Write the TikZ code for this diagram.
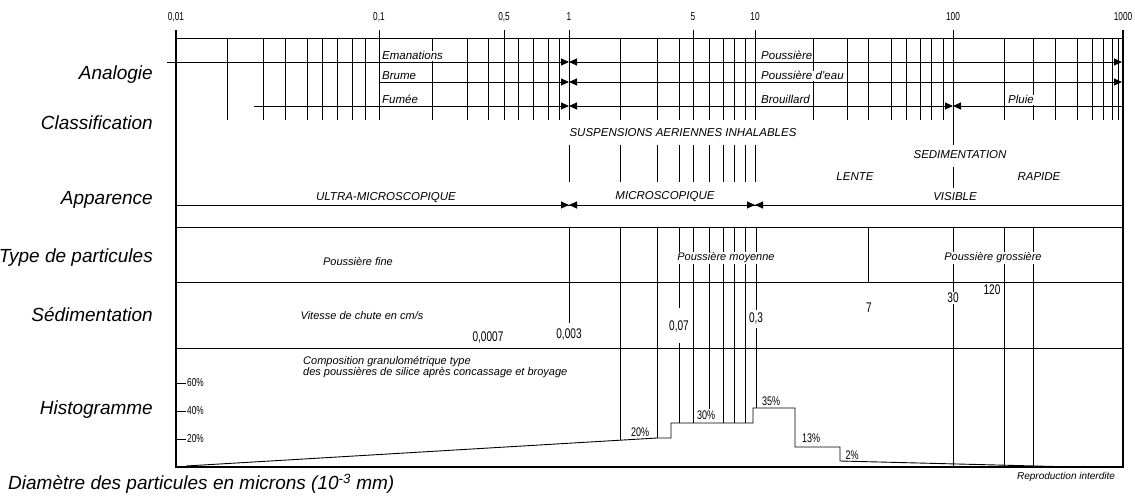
\documentclass[tikz,border=0pt]{standalone}
\usepackage{fontspec}
\setmainfont{Liberation Sans}
\usepackage{graphicx}
\usetikzlibrary{arrows.meta}

% chiffres serres, comme sur le dessin d'origine
\newcommand{\serre}[1]{\scalebox{0.72}[1]{#1}}

\begin{document}
\begin{tikzpicture}[
    x=1pt, y=-1pt,
    >={Triangle[length=8pt,width=7pt]},
    rowlabel/.style={anchor=east, inner sep=0pt, font=\fontsize{19}{19}\selectfont\itshape},
    rangelabel/.style={anchor=base west, fill=white, inner sep=1pt, font=\fontsize{11.5}{11.5}\selectfont\itshape},
    zonelabel/.style={inner sep=1pt, font=\fontsize{11.5}{11.5}\selectfont\itshape},
    textlabel/.style={inner sep=1pt, fill=white, font=\fontsize{11}{11}\selectfont\itshape},
    scalelabel/.style={inner sep=1pt, font=\fontsize{11.5}{11.5}\selectfont},
    numlabel/.style={inner sep=1pt, fill=white, font=\fontsize{14}{14}\selectfont},
    pctlabel/.style={inner sep=0.5pt, fill=white, font=\fontsize{12.5}{12.5}\selectfont},
    grille/.style={line width=0.8pt},
    bord/.style={line width=2.6pt},
    plage/.style={line width=0.9pt}
  ]
  \useasboundingbox (0,0) rectangle (1135,497);

  % Echelle du haut
  \foreach \x/\v [count=\i] in {176/{0,01}, 379/{0,1}, 504/{0,5}, 569/1, 693/5, 755/10, 953/100, 1123/1000}
    \node[scalelabel] (ech\i) at (\x,17) {\serre{\v}};
  \foreach \x in {379,504,569,693,755,953}
    \draw[grille] (\x,30) -- (\x,38);

  % Grille logarithmique (Analogie)
  \foreach \x in {227,263,285,307,322,337,352,365,379,
                  432,467,488,504,518,533,548,559,569,
                  620,657,679,693,709,723,734,745,755,
                  813,847,868,891,906,920,931,943,953,
                  1004,1033,1055,1077,1092,1103,1112,1118}
    \draw[grille] (\x,38) -- (\x,120);

  % Classification
  \foreach \x in {569,620,657,679,693,709,723,734,745,755}
    \draw[grille] (\x,145) -- (\x,182);
  \draw[grille] (953,120) -- (953,145) (953,167) -- (953,188);

  % Cadre
  \draw[grille] (176,38) -- (1123,38);
  \foreach \y in {205,227,282,348}
    \draw[grille] (176,\y) -- (1123,\y);

  % Type de particules, Sedimentation, Histogramme
  \draw[grille] (569,227) -- (569,323);
  \draw[grille] (620,227) -- (620,440);
  \draw[grille] (657,227) -- (657,438);
  \draw[grille] (679,227) -- (679,308) (679,343) -- (679,423);
  \foreach \x in {693,723,734,745}
    \draw[grille] (\x,227) -- (\x,423);
  \draw[grille] (709,227) -- (709,409);
  \draw[grille] (756,227) -- (756,310) (756,328) -- (756,408);
  \draw[grille] (868,227) -- (868,282);
  \foreach \x in {953,1004,1033}
    \draw[grille] (\x,227) -- (\x,467);

  % Analogie
  \node[rangelabel] (eman) at (381,60) {Emanations};
  \node[rangelabel] (brume) at (381,80) {Brume};
  \node[rangelabel] (fumee) at (381,104) {Fumée};
  \node[rangelabel] (pous) at (760,60) {Poussière};
  \node[rangelabel] (pouseau) at (760,80) {Poussière d'eau};
  \node[rangelabel] (brouil) at (760,104) {Brouillard};
  \node[rangelabel] (pluie) at (1007,104) {Pluie};
  \draw[plage, ->] (167,62) -- (569,62);
  \draw[plage, <->] (569,62) -- (1122,62);
  \draw[plage, ->] (379,82) -- (569,82);
  \draw[plage, <->] (569,82) -- (1122,82);
  \draw[plage, ->] (254,106) -- (569,106);
  \draw[plage, <->] (569,106) -- (953,106);
  \draw[plage, <-] (953,106) -- (1122,106);

  % Classification / Apparence
  \node[zonelabel] (susp) at (683,133) {SUSPENSIONS AERIENNES INHALABLES};
  \node[zonelabel] (sedim) at (960,155) {SEDIMENTATION};
  \node[zonelabel] (lente) at (855,177) {LENTE};
  \node[zonelabel] (rapide) at (1039,177) {RAPIDE};
  \node[zonelabel] (ultra) at (386,198) {ULTRA-MICROSCOPIQUE};
  \node[zonelabel] (micro) at (665,197) {MICROSCOPIQUE};
  \node[zonelabel] (visible) at (955,197) {VISIBLE};
  \draw[plage, ->] (176,205) -- (569,205);
  \draw[plage, <->] (569,205) -- (755,205);
  \draw[plage, <-] (755,205) -- (1123,205);

  % Type de particules
  \node[textlabel] (fine) at (358,262) {Poussière fine};
  \node[textlabel] (moyenne) at (726,258) {Poussière moyenne};
  \node[textlabel] (grossiere) at (993,258) {Poussière grossière};

  % Sedimentation
  \node[textlabel] (vitesse) at (362,316) {Vitesse de chute en cm/s};
  \node[numlabel] (v1) at (488,338) {\serre{0,0007}};
  \node[numlabel] (v2) at (569,335) {\serre{0,003}};
  \node[numlabel] (v3) at (679,327) {\serre{0,07}};
  \node[numlabel] (v4) at (756,319) {\serre{0,3}};
  \node[numlabel] (v5) at (869,308) {\serre{7}};
  \node[numlabel] (v6) at (953,298) {\serre{30}};
  \node[numlabel] (v7) at (992,290) {\serre{120}};

  % Histogramme
  \node[anchor=north west, inner sep=0pt, align=left,
        font=\fontsize{11}{11}\selectfont\itshape] (compo) at (303,356)
    {Composition granulométrique type\\des poussières de silice après concassage et broyage};
  \foreach \y/\p in {383/60, 411/40, 439/20} {
    \draw[grille] (176,\y) -- (186,\y);
    \node[anchor=west, inner sep=1pt, font=\fontsize{11.5}{11.5}\selectfont] (ax\p) at (186,\y) {\serre{\p\%}};
  }
  \draw[plage] (186,466) -- (657,438) -- (671,438) -- (671,423) -- (753,423)
    -- (753,408) -- (795,408) -- (795,447) -- (840,447) -- (840,461) -- (1075,467);
  \node[pctlabel] (h20) at (640,432) {\serre{20\%}};
  \node[pctlabel] (h30) at (706,415) {\serre{30\%}};
  \node[pctlabel] (h35) at (771,401) {\serre{35\%}};
  \node[pctlabel] (h13) at (811,438) {\serre{13\%}};
  \node[pctlabel] (h2) at (852,455) {\serre{2\%}};

  % Bords epais
  \draw[bord] (176,30) -- (176,467) -- (1123,467) -- (1123,30);

  % Titres des lignes
  \node[rowlabel] (analogie) at (153,75) {Analogie};
  \node[rowlabel] (classif) at (153,123) {Classification};
  \node[rowlabel] (apparence) at (153,200) {Apparence};
  \node[rowlabel] (type) at (153,258) {Type de particules};
  \node[rowlabel] (sedimentation) at (153,315) {Sédimentation};
  \node[rowlabel] (histo) at (153,410) {Histogramme};
  \node[anchor=west, inner sep=0pt, font=\fontsize{19}{19}\selectfont\itshape] (diam) at (8,484)
    {Diamètre des particules en microns (10\textsuperscript{-3} mm)};
  \node[inner sep=0pt, font=\fontsize{10}{10}\selectfont\itshape] (repro) at (1066,477)
    {Reproduction interdite};
\end{tikzpicture}
\end{document}
